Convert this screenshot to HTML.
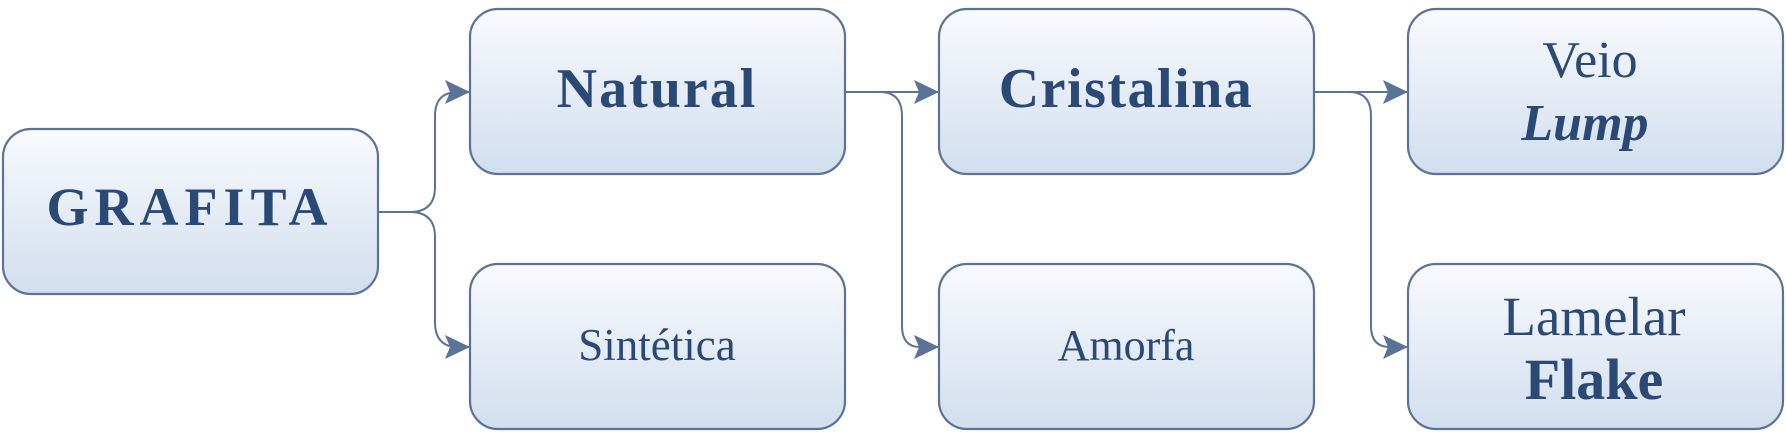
<!DOCTYPE html>
<html><head><meta charset="utf-8"><style>
body{margin:0;width:1786px;height:437px;background:#fff;overflow:hidden}
</style></head><body>
<svg width="1786" height="437" viewBox="0 0 1786 437" xmlns="http://www.w3.org/2000/svg">
<defs>
<linearGradient id="g" x1="0" y1="0" x2="0" y2="1">
<stop offset="0" stop-color="#f9fafd"/><stop offset="1" stop-color="#d2deee"/>
</linearGradient>
<marker id="a" markerWidth="26" markerHeight="24" refX="25" refY="12" orient="auto" markerUnits="userSpaceOnUse">
<path d="M0,0 L25,12 L0,24 L5,12 Z" fill="#5a7396"/>
</marker>
</defs>
<g fill="url(#g)" stroke="#5a7396" stroke-width="2.2">
<rect x="3" y="129" width="375" height="165" rx="28"/>
<rect x="470" y="9" width="375" height="165" rx="28"/>
<rect x="470" y="264" width="375" height="165" rx="28"/>
<rect x="939" y="9" width="375" height="165" rx="28"/>
<rect x="939" y="264" width="375" height="165" rx="28"/>
<rect x="1408" y="9" width="375" height="165" rx="28"/>
<rect x="1408" y="264" width="375" height="165" rx="28"/>
</g>
<g fill="none" stroke="#5a7396" stroke-width="2">
<path d="M378,212 H410 Q435,212 435,187 V116 Q435,92 458,92 H470" marker-end="url(#a)"/>
<path d="M378,212 H410 Q435,212 435,237 V322 Q435,347 458,347 H470" marker-end="url(#a)"/>
<path d="M845,92 H939" marker-end="url(#a)"/>
<path d="M845,92 H880 Q902,92 902,116 V326 Q902,347 920,347 H939" marker-end="url(#a)"/>
<path d="M1314,92 H1408" marker-end="url(#a)"/>
<path d="M1314,92 H1349 Q1371,92 1371,116 V326 Q1371,347 1390,347 H1408" marker-end="url(#a)"/>
</g>
<g fill="#2a4a75" font-family="Liberation Serif, serif" text-anchor="middle">
<text x="190" y="225" font-size="54" font-weight="bold" letter-spacing="6">GRAFITA</text>
<text x="657" y="107" font-size="56" font-weight="bold" letter-spacing="2">Natural</text>
<text x="657" y="360" font-size="45">Sintética</text>
<text x="1126" y="107" font-size="56" font-weight="bold" letter-spacing="1.5">Cristalina</text>
<text x="1126" y="360" font-size="44">Amorfa</text>
<text x="1590" y="77" font-size="52">Veio</text>
<text x="1585" y="140" font-size="52" font-weight="bold" font-style="italic">Lump</text>
<text x="1594" y="335" font-size="55">Lamelar</text>
<text x="1594" y="399" font-size="58" font-weight="bold">Flake</text>
</g>
</svg>
</body></html>
